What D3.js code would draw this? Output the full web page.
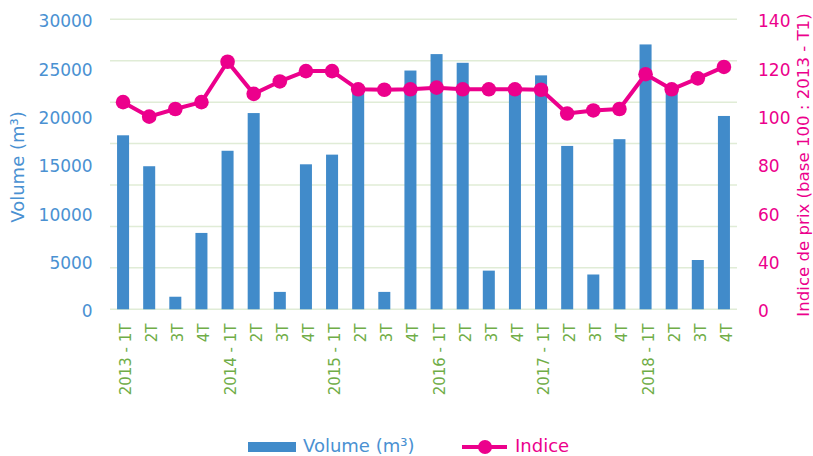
<!DOCTYPE html>
<html>
<head>
<meta charset="utf-8">
<script src="https://cdn.jsdelivr.net/npm/d3@7"></script>
<style>
  html, body { margin: 0; padding: 0; background: #fff; }
  svg { display: block; font-family: "DejaVu Sans", sans-serif; }
</style>
</head>
<body>
<svg id="chart" width="813" height="456"></svg>
<script>
// ---- data ----
const categories = ["2013-1T","2013-2T","2013-3T","2013-4T","2014-1T","2014-2T","2014-3T","2014-4T",
  "2015-1T","2015-2T","2015-3T","2015-4T","2016-1T","2016-2T","2016-3T","2016-4T",
  "2017-1T","2017-2T","2017-3T","2017-4T","2018-1T","2018-2T","2018-3T","2018-4T"];
const xTickLabels = ["2013 - 1T","2T","3T","4T","2014 - 1T","2T","3T","4T",
  "2015 - 1T","2T","3T","4T","2016 - 1T","2T","3T","4T",
  "2017 - 1T","2T","3T","4T","2018 - 1T","2T","3T","4T"];
const volume = [18000, 14800, 1300, 7900, 16400, 20300, 1800, 15000,
  16000, 22800, 1800, 24700, 26400, 25500, 4000, 22700,
  24200, 16900, 3600, 17600, 27400, 22600, 5100, 20000];
const indice = [100, 93, 96.7, 100, 119.5, 104, 110, 115,
  115, 106.2, 106, 106.2, 107, 106.2, 106.2, 106.2,
  106, 94.5, 96, 96.7, 113.5, 106.2, 111.5, 117];
const volTicks = [0, 5000, 10000, 15000, 20000, 25000, 30000];
const idxGridTicks = [0, 20, 40, 60, 80, 100, 120, 140];
const rightTickLabels = ["0", "40", "60", "80", "100", "120", "140"];
const leftTitle = "Volume (m³)";
const rightTitle = "Indice de prix (base 100 : 2013 - T1)";
const legendLabels = ["Volume (m³)", "Indice"];

// ---- styles ----
const BLUE = "#418BCA", BLUE_TXT = "#4A91D2", MAG = "#EC008C", GREEN = "#70AD47", GRID = "#E0ECD6";

const svg = d3.select("#chart");
const x = d3.scaleBand().domain(categories).range([110, 737]).paddingInner(0.54).paddingOuter(0.27);
const yVol = d3.scaleLinear().domain([0, 30000]).range([309.3, 19.3]);
const yIdx = d3.scaleLinear().domain([0, 140]).range([309.3, 19.3]);

// gridlines
svg.append("g").selectAll("line").data(idxGridTicks).join("line")
  .attr("x1", 110).attr("x2", 737)
  .attr("y1", d => yIdx(d)).attr("y2", d => yIdx(d))
  .attr("stroke", GRID).attr("stroke-width", 1.5);

// left tick labels
svg.append("g").selectAll("text").data(volTicks).join("text")
  .attr("x", 92.7).attr("y", d => yVol(d) + 2)
  .attr("text-anchor", "end").attr("dominant-baseline", "central")
  .attr("fill", BLUE_TXT).attr("font-size", 17)
  .text(d => d);

// right tick labels (as printed on the reference)
svg.append("g").selectAll("text").data(volTicks).join("text")
  .attr("x", 758).attr("y", d => yVol(d) + 2)
  .attr("text-anchor", "start").attr("dominant-baseline", "central")
  .attr("fill", MAG).attr("font-size", 17)
  .text((d, i) => rightTickLabels[i]);

// bars
svg.append("g").selectAll("rect").data(categories).join("rect")
  .attr("x", d => x(d)).attr("width", x.bandwidth())
  .attr("y", (d, i) => yVol(volume[i]))
  .attr("height", (d, i) => yVol(0) - yVol(volume[i]))
  .attr("fill", BLUE);

// x labels
svg.append("g").selectAll("text").data(categories).join("text")
  .attr("transform", d => `translate(${x(d) + x.bandwidth() / 2 + 2.7},323.5) rotate(-90)`)
  .attr("text-anchor", "end").attr("dy", "0.35em")
  .attr("fill", GREEN).attr("font-size", 15)
  .text((d, i) => xTickLabels[i]);

// line
const cx = d => x(d) + x.bandwidth() / 2;
const line = d3.line().x((d, i) => cx(categories[i])).y(d => yIdx(d));
svg.append("path").datum(indice).attr("d", line)
  .attr("fill", "none").attr("stroke", MAG).attr("stroke-width", 4).attr("stroke-linejoin", "round");
svg.append("g").selectAll("circle").data(indice).join("circle")
  .attr("cx", (d, i) => cx(categories[i])).attr("cy", d => yIdx(d))
  .attr("r", 7.3).attr("fill", MAG);

// axis titles
svg.append("text").attr("transform", "translate(17,167) rotate(-90)")
  .attr("text-anchor", "middle").attr("dominant-baseline", "central")
  .attr("fill", BLUE_TXT).attr("font-size", 18).text(leftTitle);
svg.append("text").attr("transform", "translate(803,165) rotate(-90)")
  .attr("text-anchor", "middle").attr("dominant-baseline", "central")
  .attr("fill", MAG).attr("font-size", 16.6).text(rightTitle);

// legend
const lg = svg.append("g");
lg.append("rect").attr("x", 248).attr("y", 442).attr("width", 48).attr("height", 10).attr("fill", BLUE);
lg.append("text").attr("x", 303).attr("y", 452).attr("fill", BLUE_TXT).attr("font-size", 18).text(legendLabels[0]);
lg.append("line").attr("x1", 462).attr("x2", 507).attr("y1", 447).attr("y2", 447)
  .attr("stroke", MAG).attr("stroke-width", 4);
lg.append("circle").attr("cx", 485).attr("cy", 447).attr("r", 7).attr("fill", MAG);
lg.append("text").attr("x", 515).attr("y", 452).attr("fill", MAG).attr("font-size", 18).text(legendLabels[1]);
</script>
</body>
</html>
